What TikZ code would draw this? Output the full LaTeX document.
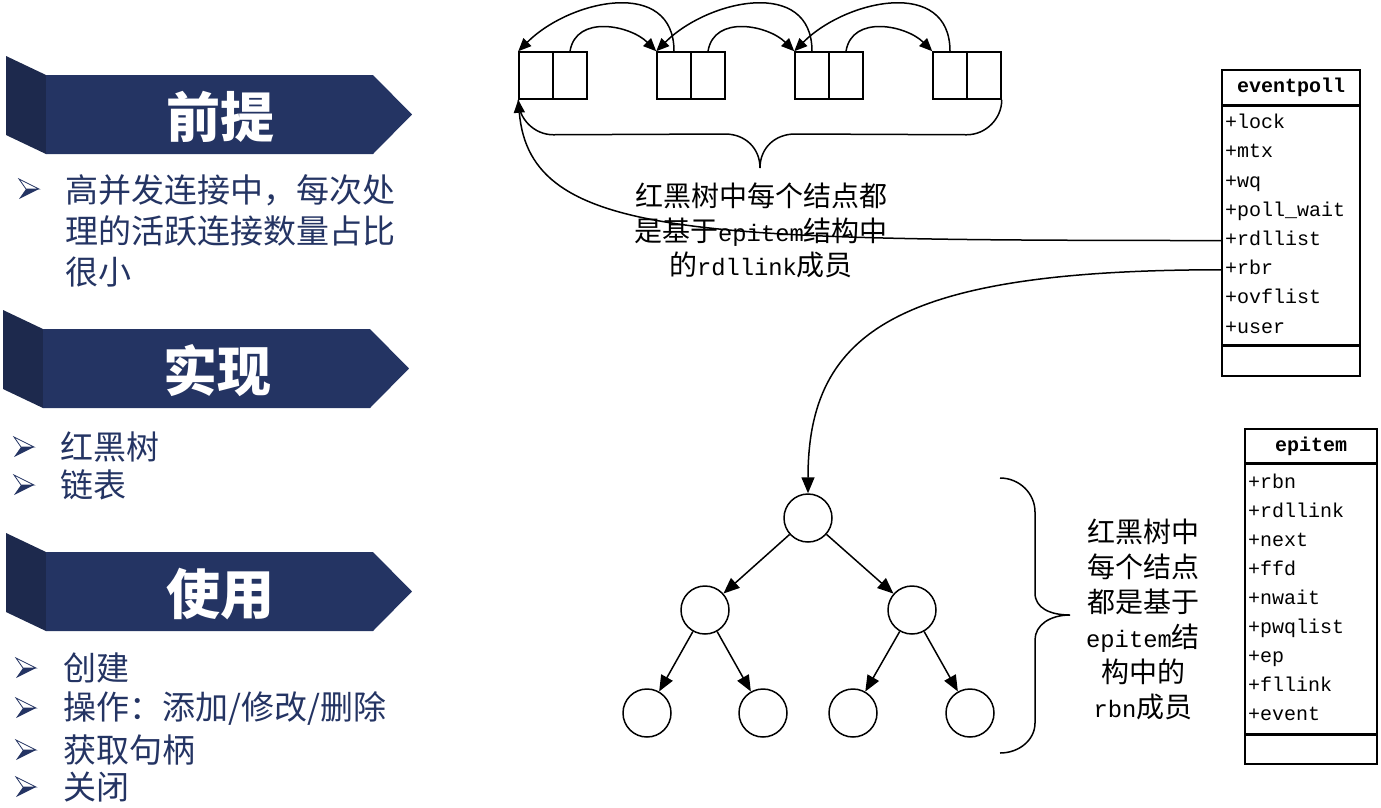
\documentclass[tikz,border=0pt]{standalone}
\usepackage{fontspec}
\setmainfont{Liberation Serif}
\newfontfamily\cjk{Noto Sans CJK SC}
\newfontfamily\mono{Liberation Mono}
\newfontfamily\capmono{Liberation Mono}[Scale=0.85]
\usetikzlibrary{calc,arrows.meta}

\definecolor{bannerblue}{RGB}{36,52,99}
\definecolor{bannerside}{RGB}{29,41,77}

\tikzset{
    arrowbul/.pic={
        \fill[bannerblue] (-3,0) -- (10,0) -- (-10,10) -- cycle;
        \draw[bannerblue, line width=0.8pt] (-10,-10) -- (10,0) -- (-3,0) -- cycle;
    }
}

\begin{document}
\begin{tikzpicture}[
        x=1pt, y=-1pt, line width=1.5pt,
        >={Triangle[length=13pt,width=11pt]},
        cell/.style={draw, minimum width=34pt, minimum height=47pt, inner sep=0},
        circ/.style={draw, circle, minimum size=48pt, inner sep=0},
        bigtip/.style={-{Triangle[length=16pt,width=13pt]}},
    ]
    \useasboundingbox (0,0) rectangle (1381,807);
    % text styles
    \tikzstyle{btxt}=[anchor=west, inner sep=0, align=left, text=bannerblue, font=\cjk\fontsize{33}{41}\selectfont]
    \tikzstyle{head}=[inner sep=0, text=white, font=\cjk\bfseries\fontsize{54}{54}\selectfont]
    \tikzstyle{note}=[inner sep=0, align=center, font=\cjk\fontsize{28}{34.5}\selectfont]
    \tikzstyle{clstitle}=[draw, inner sep=0, font=\mono\bfseries\fontsize{20}{20}\selectfont]
    \tikzstyle{clsbox}=[draw, inner sep=0, anchor=north]
    \tikzstyle{clsrow}=[anchor=west, inner xsep=3pt, inner ysep=0, text width=130pt, align=left, text height=14pt, text depth=4pt, font=\mono\fontsize{20}{20}\selectfont]

    % banners on the left
    \foreach \x/\y/\t [count=\i] in {6/56/前提, 3/310/实现, 6/533/使用} {
        \fill[bannerside] (\x,\y) -- ++(40,19) -- ++(0,79) -- ++(-40,-19) -- cycle;
        \fill[bannerblue] (\x+40,\y+19) -- ++(327,0) -- ++(39,39.5) -- ++(-39,39.5) -- ++(-327,0) -- cycle;
        \node[head] (H\i) at (\x+214,\y+61) {\t};
    }
    % bullets
    \foreach \x/\y in {29/189, 24/447, 24/485, 26/668, 26/708, 26/750, 26/787}
        \pic at (\x,\y) {arrowbul};
    \node[btxt] (B11) at (65,230.5) {高并发连接中，每次处\\理的活跃连接数量占比\\很小};
    \node[btxt] (B21) at (60,447) {红黑树};
    \node[btxt] (B22) at (60,485) {链表};
    \node[btxt] (B31) at (63,668) {创建};
    \node[btxt] (B32) at (63,708) {操作：添加/修改/删除};
    \node[btxt] (B33) at (63,750) {获取句柄};
    \node[btxt] (B34) at (63,787) {关闭};

    % list: prev / next cells
    \node[cell] (P1) at (536,75.5) {};
    \node[cell] (N1) at ($(P1)+(34,0)$) {};
    \node[cell] (P2) at ($(P1)+(138,0)$) {};
    \node[cell] (N2) at ($(P2)+(34,0)$) {};
    \node[cell] (P3) at ($(P2)+(138,0)$) {};
    \node[cell] (N3) at ($(P3)+(34,0)$) {};
    \node[cell] (P4) at ($(P3)+(138,0)$) {};
    \node[cell] (N4) at ($(P4)+(34,0)$) {};
    \foreach \a/\b in {1/2, 2/3, 3/4} {
        \draw[->] (N\a.north) .. controls +(6,-37) and +(-26,-26) .. (P\b.north west);
        \draw[->] (P\b.north) .. controls +(0,-74) and +(52,-52) .. (P\a.north west);
    }
    % brace under the list
    \coordinate (BT) at (760,168);
    \draw (P1.south west) .. controls +(0,19) and +(-19,0) .. ++(35,35)
        -- ($(BT)+(-35,-34)$) .. controls +(20,0) and +(0,-20) .. (BT)
        .. controls +(0,-20) and +(-20,0) .. ($(BT)+(35,-34)$)
        -- ($(N4.south east)+(-35,35)$) .. controls +(19,0) and +(0,19) .. (N4.south east);
    \node[note] (C1) at (761,230.5) {红黑树中每个结点都\\是基于{\capmono epitem}结构中\\的{\capmono rdllink}成员};

    % eventpoll
    \node[clstitle, minimum width=138pt, minimum height=35pt] (EP) at (1291,87.5) {eventpoll};
    \node[clsbox, minimum width=138pt, minimum height=238pt] (EPbody) at (EP.south) {};
    \node[clsbox, minimum width=138pt, minimum height=30pt] (EPfoot) at (EPbody.south) {};
    \foreach \f [count=\i from 0] in {lock,mtx,wq,poll\_wait,rdllist,rbr,ovflist,user}
        \node[clsrow] (EP\i) at ($(EPbody.north west)+(0,18+29.2*\i)$) {+\f};

    % epitem
    \node[clstitle, minimum width=132pt, minimum height=34pt] (EI) at (1311,446) {epitem};
    \node[clsbox, minimum width=132pt, minimum height=269pt] (EIbody) at (EI.south) {};
    \node[clsbox, minimum width=132pt, minimum height=29pt] (EIfoot) at (EIbody.south) {};
    \foreach \f [count=\i from 0] in {rbn,rdllink,next,ffd,nwait,pwqlist,ep,fllink,event}
        \node[clsrow] (EI\i) at ($(EIbody.north west)+(0,20+29*\i)$) {+\f};

    % red-black tree
    \node[circ] (T0) at (808,518) {};
    \node[circ] (T1) at ($(T0)+(-103,92)$) {};
    \node[circ] (T2) at ($(T0)+(104,92)$) {};
    \node[circ] (T3) at ($(T1)+(-58,103)$) {};
    \node[circ] (T4) at ($(T1)+(58,103)$) {};
    \node[circ] (T5) at ($(T2)+(-59,103)$) {};
    \node[circ] (T6) at ($(T2)+(58,103)$) {};
    \foreach \a/\b in {T0/T1, T0/T2, T1/T3, T1/T4, T2/T5, T2/T6}
        \draw[bigtip] (\a) -- (\b);
    % brace beside the tree
    \coordinate (BRt) at (1000,478);
    \coordinate (BRtip) at (1070,615);
    \coordinate (BRb) at (1000,753);
    \draw (BRt) .. controls +(19,0) and +(0,-19) .. ++(35,34)
        -- ($(BRtip)+(-35,-22)$) .. controls +(0,15) and +(-20,0) .. (BRtip)
        .. controls +(-20,0) and +(0,-15) .. ($(BRtip)+(-35,25)$)
        -- ($(BRb)+(35,-30)$) .. controls +(0,17) and +(19,0) .. (BRb);
    \node[note, font=\cjk\fontsize{28}{35}\selectfont] (C2) at (1143,619.5) {红黑树中\\每个结点\\都是基于\\{\capmono epitem}结\\构中的\\{\capmono rbn}成员};

    % members to structures
    \draw[->] (EP4.west) .. controls (700,240) and (530,240) .. (P1.south west);
    \draw[bigtip] (EP5.west) .. controls (900,270) and (808,330) .. (T0.north);
\end{tikzpicture}
\end{document}
